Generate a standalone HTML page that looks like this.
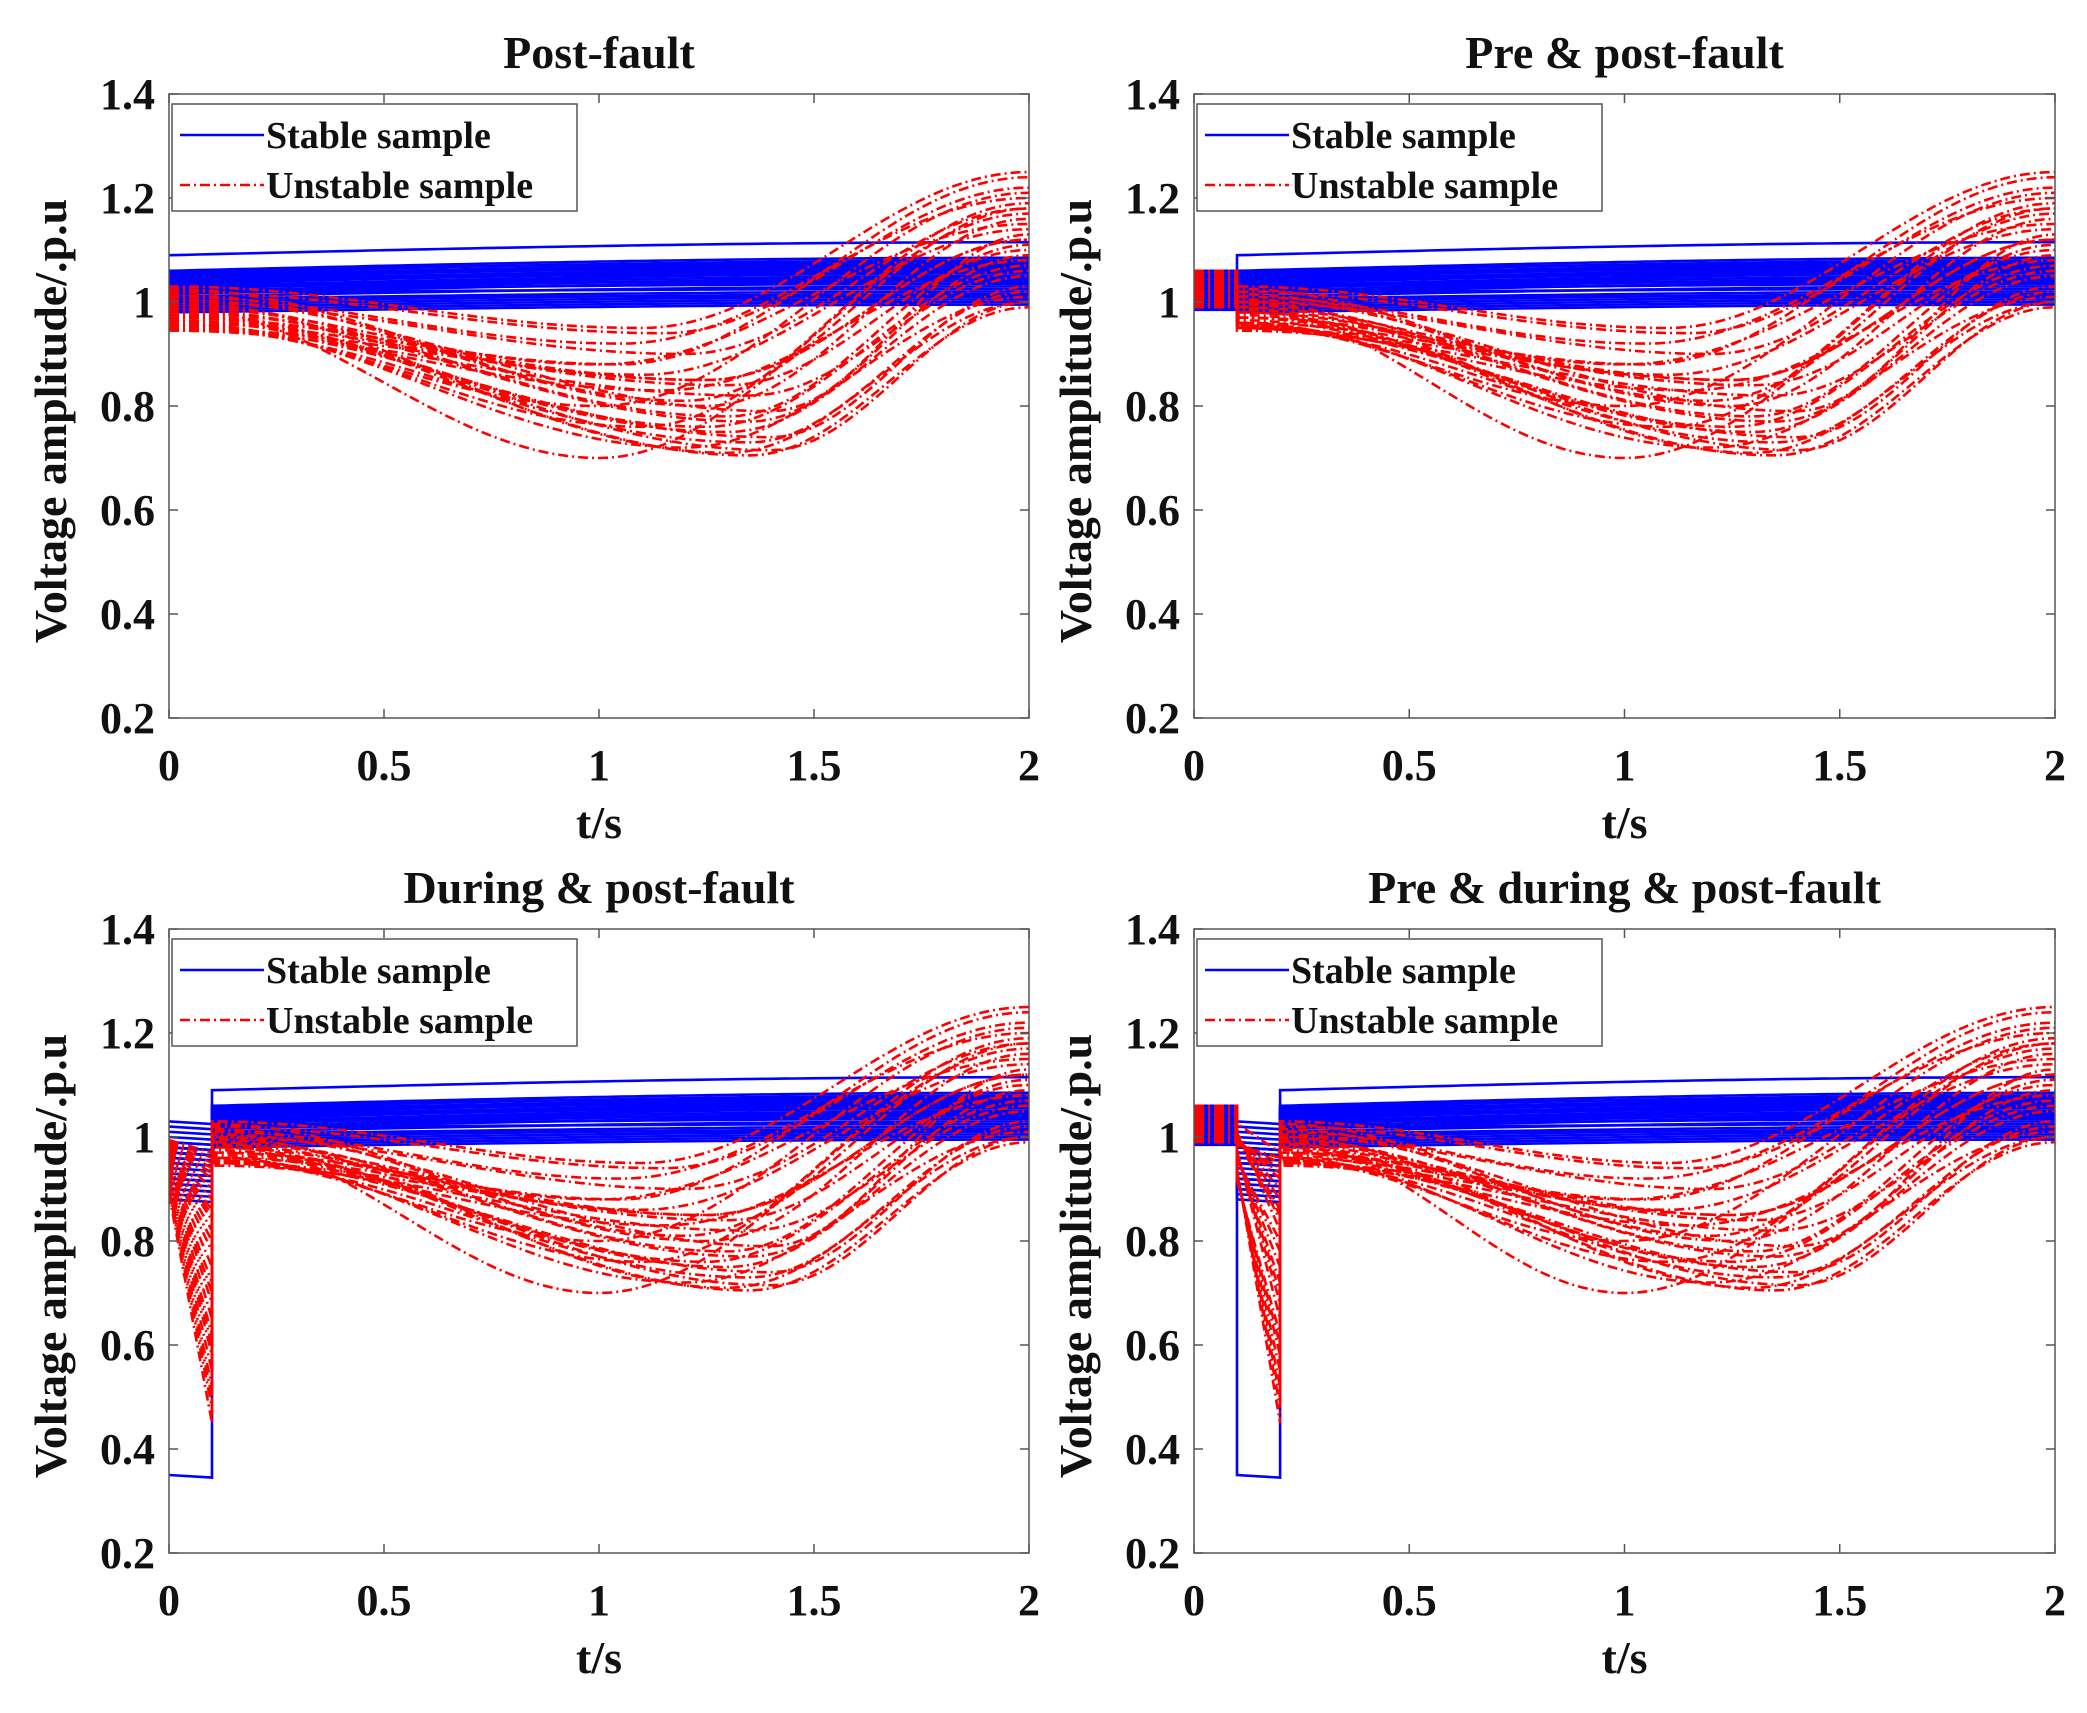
<!DOCTYPE html>
<html><head><meta charset="utf-8"><style>
html,body{margin:0;padding:0;background:#fff}
svg text{font-family:"Liberation Serif",serif;font-weight:bold;fill:#111}
</style></head><body>
<svg id="fig" width="2087" height="1708" viewBox="0 0 2087 1708" xmlns="http://www.w3.org/2000/svg"></svg>
<script>
// ---- data ----
const panelTitles = ["Post-fault","Pre & post-fault","During & post-fault","Pre & during & post-fault"];
const xTicks = [0,0.5,1,1.5,2];
const xTickLabels = ["0","0.5","1","1.5","2"];
const yTicks = [0.2,0.4,0.6,0.8,1.0,1.2,1.4];
const yTickLabels = ["0.2","0.4","0.6","0.8","1","1.2","1.4"];
// fault timing per panel
const preEnd = [0,0.1,0,0.1];
const duringEnd = [0,0.1,0.1,0.2];
// stable samples
const stableStart = [1.09,1.06,1.055,1.05,1.045,1.04,1.035,1.03,1.025,1.02,1.015,1.01,1.005,1.0,0.995,0.99,0.985,0.98,1.058,1.048,1.038,1.028,1.018,1.008,1.052,1.042,1.032,1.022];
const stableEnd   = [1.115,1.085,1.08,1.075,1.07,1.065,1.06,1.055,1.05,1.045,1.04,1.03,1.02,1.015,1.01,1.005,1.0,0.995,1.078,1.068,1.058,1.042,1.025,1.012,1.072,1.062,1.048,1.035];
const stableDuring= [0.35,1.03,1.02,1.0,0.99,0.98,0.97,0.96,0.95,0.94,0.93,0.92,0.91,0.9,0.89,0.98,0.97,0.96,1.01,0.98,0.95,0.93,0.9,0.88,0.99,0.97,0.95,0.92];
const stablePre   = [1.06,1.055,1.05,1.045,1.04,1.035,1.03,1.025,1.02,1.015,1.01,1.005,1.0,0.995,0.99,0.985,1.06,1.05,1.04,1.03,1.02,1.01,1.0,0.99,1.05,1.03,1.01,0.99];
// unstable samples
const unstableStart = [1.03,1.02,1.01,1.0,0.99,0.98,0.97,0.96,0.95,0.945,1.025,1.015,1.005,0.995,0.985,0.975,0.965,0.955,0.95,0.96,1.0,0.99,0.98,0.97,0.96,0.955,0.95,0.97];
const unstableMin   = [0.95,0.94,0.92,0.9,0.88,0.86,0.85,0.84,0.83,0.82,0.81,0.8,0.79,0.78,0.77,0.76,0.75,0.74,0.73,0.72,0.71,0.70,0.705,0.715,0.76,0.8,0.85,0.88];
const unstableMinT  = [1.1,1.15,1.05,1.2,1.0,1.1,1.25,1.3,1.15,1.35,1.2,1.25,1.4,1.3,1.35,1.25,1.3,1.4,1.35,1.2,1.3,1.0,1.35,1.4,1.1,1.0,1.25,1.05];
const unstableEnd   = [1.25,1.22,1.2,1.18,1.15,1.14,1.12,1.1,1.08,1.06,1.18,1.16,1.13,1.11,1.09,1.07,1.05,1.03,1.02,1.01,1.0,1.17,0.99,1.0,1.19,1.21,1.12,1.24];
const unstableDuring= [0.45,0.48,0.5,0.52,0.55,0.58,0.6,0.62,0.65,0.68,0.7,0.72,0.75,0.78,0.8,0.82,0.84,0.86,0.88,0.9,0.92,0.94,0.96,0.97,0.85,0.9,0.93,0.95];
const unstablePre   = [1.06,1.05,1.04,1.03,1.02,1.01,1.0,0.99,1.055,1.045,1.035,1.025,1.015,1.005,0.995,1.06,1.05,1.04,1.03,1.02,1.01,1.0,0.99,1.04,1.03,1.02,1.01,1.0];

// ---- layout ----
const panels = [
  {l:169,r:1029,t:94,b:718},{l:1194,r:2055,t:94,b:718},
  {l:169,r:1029,t:929,b:1553},{l:1194,r:2055,t:929,b:1553}];
const svg = document.getElementById('fig');
const NS = "http://www.w3.org/2000/svg";
function mk(tag, attrs, parent){const e=document.createElementNS(NS,tag);for(const k in attrs)e.setAttribute(k,attrs[k]);(parent||svg).appendChild(e);return e;}

function stableCurve(i,p){
  const pts=[];
  const s=stableStart[i], e=stableEnd[i];
  if(preEnd[p]>0){pts.push([0,stablePre[i]]);pts.push([preEnd[p],stablePre[i]]);}
  if(duringEnd[p]>preEnd[p]){
    pts.push([preEnd[p],stableDuring[i]]);pts.push([duringEnd[p],stableDuring[i]-0.005]);}
  const t0=duringEnd[p];
  for(let k=0;k<=60;k++){const t=t0+(2-t0)*k/60;const f=(t-t0)/(2-t0);
    pts.push([t,s+(e-s)*Math.sin(f*Math.PI/2)]);}
  return pts;
}
function unstableCurve(i,p){
  const pts=[];
  const s=unstableStart[i], m=unstableMin[i], tm=unstableMinT[i], e=unstableEnd[i];
  if(preEnd[p]>0){pts.push([0,unstablePre[i]]);pts.push([preEnd[p],unstablePre[i]]);}
  if(duringEnd[p]>preEnd[p]){const d0=(preEnd[p]>0)?unstablePre[i]:1.0;
    pts.push([preEnd[p],d0-(d0-unstableDuring[i])*0.2]);pts.push([duringEnd[p],unstableDuring[i]]);}
  const t0=duringEnd[p];
  for(let k=0;k<=80;k++){const t=t0+(2-t0)*k/80;let v;
    if(t<=tm){const f=(t-t0)/(tm-t0);v=s+(m-s)*(1-Math.cos(Math.PI*f))/2;}
    else{const f=(t-tm)/(2-tm);v=m+(e-m)*(1-Math.cos(Math.PI*f))/2;}
    pts.push([t,v]);}
  return pts;
}

panels.forEach((P,p)=>{
  const g=mk('g',{});
  
  
  const X=v=>P.l+(P.r-P.l)*v/2;
  const Y=v=>P.b-(P.b-P.t)*(v-0.2)/1.2;
  const cp='clip'+p;
  const cpe=mk('clipPath',{id:cp},g);mk('rect',{x:P.l,y:P.t,width:P.r-P.l,height:P.b-P.t},cpe);
  const bg=mk('rect',{x:P.l,y:P.t,width:P.r-P.l,height:P.b-P.t,fill:'#fff'},g);
  
  
  const lines=mk('g',{'clip-path':'url(#'+cp+')'},g);
  stableStart.forEach((_,i)=>{
    const d=stableCurve(i,p).map((q,k)=>(k?'L':'M')+X(q[0]).toFixed(1)+' '+Y(q[1]).toFixed(1)).join('');
    const pa=mk('path',{d,fill:'none',stroke:'#0000ff','stroke-width':2.6},lines);
    
    
  });
  unstableStart.forEach((_,i)=>{
    const d=unstableCurve(i,p).map((q,k)=>(k?'L':'M')+X(q[0]).toFixed(1)+' '+Y(q[1]).toFixed(1)).join('');
    const pa=mk('path',{d,fill:'none',stroke:'#ff0000','stroke-width':2.6,'stroke-dasharray':'10 4 2 4'},lines);
    
    
  });
  const fr=mk('rect',{x:P.l,y:P.t,width:P.r-P.l,height:P.b-P.t,fill:'none',stroke:'#555','stroke-width':1.5},g);
  
  
  xTicks.forEach((v,k)=>{
    mk('line',{x1:X(v),x2:X(v),y1:P.b,y2:P.b-9,stroke:'#555','stroke-width':1.5},g);
    mk('line',{x1:X(v),x2:X(v),y1:P.t,y2:P.t+9,stroke:'#555','stroke-width':1.5},g);
    const t=mk('text',{x:X(v),y:P.b+62,'text-anchor':'middle','font-size':44},g);t.textContent=xTickLabels[k];
    
    
  });
  yTicks.forEach((v,k)=>{
    mk('line',{x1:P.l,x2:P.l+9,y1:Y(v),y2:Y(v),stroke:'#555','stroke-width':1.5},g);
    mk('line',{x1:P.r,x2:P.r-9,y1:Y(v),y2:Y(v),stroke:'#555','stroke-width':1.5},g);
    const t=mk('text',{x:P.l-14,y:Y(v)+15,'text-anchor':'end','font-size':44},g);t.textContent=yTickLabels[k];
    
    
  });
  const ti=mk('text',{x:(P.l+P.r)/2,y:P.t-26,'text-anchor':'middle','font-size':46},g);ti.textContent=panelTitles[p];
  
  
  const xl=mk('text',{x:(P.l+P.r)/2,y:P.b+120,'text-anchor':'middle','font-size':46},g);xl.textContent='t/s';
  
  
  const yx=P.l-103, yy=(P.t+P.b)/2+15;
  const yl=mk('text',{x:yx,y:yy,'text-anchor':'middle','font-size':46,transform:`rotate(-90 ${yx} ${yy})`},g);yl.textContent='Voltage amplitude/.p.u';
  
  
  // legend
  const lg=mk('g',{},g);
  
  
  const lx=P.l+3, ly=P.t+10;
  mk('rect',{x:lx,y:ly,width:405,height:107,fill:'#fff',stroke:'#555','stroke-width':1.5},lg);
  mk('line',{x1:lx+8,x2:lx+92,y1:ly+31,y2:ly+31,stroke:'#0000ff','stroke-width':2.6},lg);
  mk('line',{x1:lx+8,x2:lx+92,y1:ly+81,y2:ly+81,stroke:'#ff0000','stroke-width':2.6,'stroke-dasharray':'10 4 2 4'},lg);
  const t1=mk('text',{x:lx+94,y:ly+44,'font-size':38},lg);t1.textContent='Stable sample';
  
  
  const t2=mk('text',{x:lx+94,y:ly+94,'font-size':38},lg);t2.textContent='Unstable sample';
  
  
});
</script>
</body></html>
